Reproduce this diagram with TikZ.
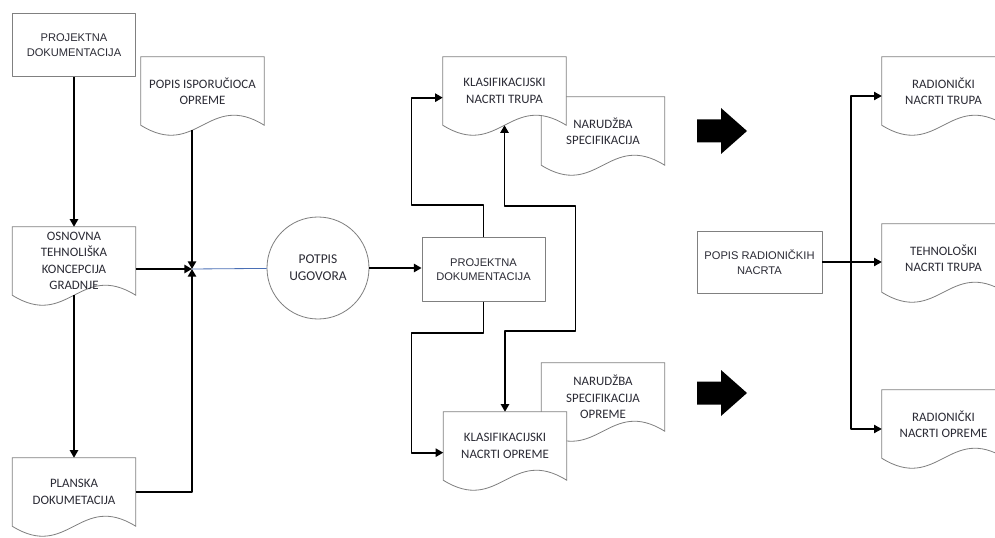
\documentclass[tikz,border=0pt]{standalone}
\usepackage{fontspec}
\setmainfont{Carlito}
\newfontfamily\arialfont{Liberation Sans}
\usetikzlibrary{arrows.meta,backgrounds}
\definecolor{boxgray}{HTML}{808080}
\definecolor{darktext}{HTML}{2B2B35}
\definecolor{bluelink}{HTML}{4A6FB5}
\tikzset{
  every picture/.style={line join=round, >={Triangle[length=6.5pt,width=7pt]}},
  docbox/.style={minimum width=3.69cm, minimum height=2.04cm, inner sep=1pt, align=center, text=darktext, font=\fontsize{11}{14}\selectfont},
  docline/.style={draw=boxgray, line width=0.7pt, fill=white},
  rectbox/.style={draw=boxgray, line width=0.7pt, fill=white, minimum width=3.69cm, minimum height=1.9cm, align=center, text=darktext, font=\arialfont\fontsize{9.5}{12.5}\selectfont},
  conn/.style={line width=1.6pt},
  busline/.style={line width=1pt},
  bigarrow/.pic={\fill (0,-11.5) -- (24,-11.5) -- (24,-23) -- (50,0) -- (24,23) -- (24,11.5) -- (0,11.5) -- cycle;},
}
\newcommand{\docshape}[1]{\draw[docline] (#1.north west) -- (#1.north east) -- (#1.south east) .. controls ([xshift=0.18cm,yshift=1.04cm]#1.south) and ([xshift=-0.18cm,yshift=-1.04cm]#1.south) .. (#1.south west) -- cycle;}

\begin{document}
\begin{tikzpicture}[x=0.03cm,y=-0.03cm]
\useasboundingbox (0,0) rectangle (995,538);
\node[rectbox] (proj1) at (74,45) {PROJEKTNA\\DOKUMENTACIJA};
\node[docbox] (popisisp) at (202.5,91) {POPIS ISPORUČIOCA\\OPREME};
\node[docbox] (osn) at (74,261) {OSNOVNA\\TEHNOLIŠKA\\KONCEPCIJA\\GRADNJE};
\node[docbox] (plan) at (74,492) {PLANSKA\\DOKUMETACIJA};
\coordinate (J) at (192,269);
\coordinate (isptop) at (J |- popisisp.south);
\node[circle, draw=boxgray, line width=0.7pt, minimum size=3.06cm, align=center, text=darktext, font=\fontsize{11.5}{14.5}\selectfont] (potpis) at (318,268) {POTPIS\\UGOVORA};
\node[rectbox] (proj2) at (483.5,269.5) {PROJEKTNA\\DOKUMENTACIJA};
\node[docbox] (narudzba1) at (603,131) {NARUDŽBA\\SPECIFIKACIJA};
\node[docbox] (klastrupa) at (504.5,91) {KLASIFIKACIJSKI\\NACRTI TRUPA};
\node[docbox] (narudzba2) at (603,397) {NARUDŽBA\\SPECIFIKACIJA\\OPREME};
\node[docbox] (klasopreme) at (505,446) {KLASIFIKACIJSKI\\NACRTI OPREME};
\pic at (697,131) {bigarrow};
\pic at (697,393) {bigarrow};
\node[rectbox, minimum width=3.75cm, minimum height=1.86cm] (popisrad) at (759.5,262) {POPIS RADIONIČKIH\\NACRTA};
\coordinate (bus) at (851,262);
\node[docbox] (radtrupa) at (943.5,91) {RADIONIČKI\\NACRTI TRUPA};
\node[docbox] (tehn) at (943.5,258) {TEHNOLOŠKI\\NACRTI TRUPA};
\node[docbox] (radopreme) at (943.5,424) {RADIONIČKI\\NACRTI OPREME};
\begin{scope}[on background layer]
\docshape{popisisp}
\docshape{osn}
\docshape{plan}
\docshape{narudzba1}
\docshape{klastrupa}
\docshape{narudzba2}
\docshape{klasopreme}
\docshape{radtrupa}
\docshape{tehn}
\docshape{radopreme}
\end{scope}
\draw[conn,->] (proj1) -- (osn);
\draw[conn,->] (osn.south) -- (plan);
\draw[conn,->] ([yshift=-0.15cm]isptop) -- (J);
\draw[conn,->] (osn.east |- J) -- (J);
\draw[conn,->] (plan.east) -| (J);
\draw[bluelink, line width=0.7pt] (J) -- (potpis);
\draw[conn,->] (potpis.east) -- (potpis.east -| proj2.west);
\draw[conn,->] (proj2.north) |- ++(-72,-32) |- ([yshift=-0.2cm]klastrupa.west);
\draw[conn,<->] (klastrupa.south) -- ++(0,81) -| ++(71,125) -| (klasopreme.north);
\draw[conn,->] (proj2.south) |- ++(-72,31) |- ([yshift=-0.2cm]klasopreme.west);
\draw[busline] (popisrad.east) -- (bus);
\draw[busline,->] (bus) |- ([yshift=-0.15cm]radtrupa.west);
\draw[busline,->] (bus) -- (bus -| tehn.west);
\draw[busline,->] (bus) |- ([yshift=-0.15cm]radopreme.west);
\end{tikzpicture}
\end{document}
